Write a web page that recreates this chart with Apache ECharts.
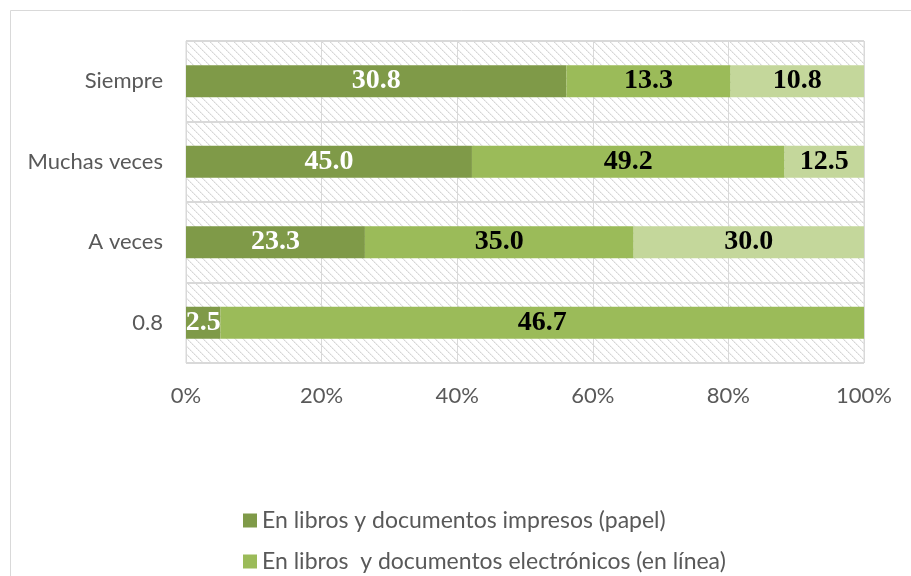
<!DOCTYPE html>
<html>
<head>
<meta charset="utf-8">
<script src="https://cdn.jsdelivr.net/npm/echarts@6/dist/echarts.min.js"></script>
<style>
  html, body { margin: 0; padding: 0; background: #fff; }
  #chart { width: 911px; height: 576px; }
</style>
</head>
<body>
<div id="chart"></div>
<script>
// categories top to bottom
var categories = ['Siempre', 'Muchas veces', 'A veces', '0.8'];
var seriesNames = [
  'En libros y documentos impresos (papel)',
  'En libros  y documentos electrónicos (en línea)',
  'Otros'
];
var impresos = [30.8, 45.0, 23.3, 2.5];
var electronicos = [13.3, 49.2, 35.0, 46.7];
var otros = [10.8, 12.5, 30.0, 0];
var xTicks = [0, 20, 40, 60, 80, 100];

var colors = ['#7F9A48', '#9BBB59', '#C4D79B'];
var labelColors = ['#ffffff', '#000000', '#000000'];

// hatch pattern for the plot background
function makeHatch() {
  var c = document.createElement('canvas');
  c.width = 8; c.height = 8;
  var ctx = c.getContext('2d');
  ctx.fillStyle = '#ffffff';
  ctx.fillRect(0, 0, 8, 8);
  for (var i = 0; i < 8; i++) {
    ctx.fillStyle = (i % 2 === 0) ? '#d6d6d6' : '#e4e4e4';
    ctx.fillRect(i, i, 1, 1);
    ctx.fillStyle = '#f0f0f0';
    ctx.fillRect((i + 1) % 8, i, 1, 1);
  }
  return c;
}

var raw = [impresos, electronicos, otros];
var totals = categories.map(function (c, i) {
  return impresos[i] + electronicos[i] + otros[i];
});

var series = raw.map(function (vals, s) {
  return {
    name: seriesNames[s],
    type: 'bar',
    stack: 'total',
    barWidth: 32,
    itemStyle: { color: colors[s] },
    label: {
      show: true,
      position: 'inside',
      color: labelColors[s],
      fontFamily: 'Liberation Serif',
      fontWeight: 'bold',
      fontSize: 28,
      formatter: function (p) {
        return vals[p.dataIndex] > 0 ? vals[p.dataIndex].toFixed(1) : '';
      }
    },
    data: vals.map(function (v, i) { return v / totals[i] * 100; })
  };
});

var legendText = { fontFamily: 'Lato', fontSize: 23, color: '#595959' };

var chart = echarts.init(document.getElementById('chart'));
chart.setOption({
  animation: false,
  backgroundColor: '#ffffff',
  graphic: [{
    type: 'rect',
    shape: { x: 10.5, y: 10.5, width: 940, height: 620 },
    style: { fill: 'none', stroke: '#d9d9d9', lineWidth: 1 },
    silent: true
  }],
  grid: {
    left: 186, top: 41, width: 678, height: 322,
    show: true,
    backgroundColor: { image: makeHatch(), repeat: 'repeat' },
    borderColor: '#d9d9d9',
    borderWidth: 1
  },
  legend: [{
    left: 238, top: 504,
    itemWidth: 14, itemHeight: 14,
    icon: 'rect',
    data: [seriesNames[0]],
    textStyle: legendText
  }, {
    left: 238, top: 545,
    itemWidth: 14, itemHeight: 14,
    icon: 'rect',
    data: [seriesNames[1]],
    textStyle: legendText
  }],
  xAxis: {
    type: 'value',
    min: xTicks[0],
    max: xTicks[xTicks.length - 1],
    interval: 20,
    axisLine: { show: false },
    axisTick: { show: false },
    splitLine: { show: true, lineStyle: { color: '#d9d9d9', width: 1 } },
    axisLabel: {
      margin: 22,
      color: '#595959',
      fontFamily: 'Lato',
      fontSize: 22,
      formatter: '{value}%'
    }
  },
  yAxis: {
    type: 'category',
    inverse: true,
    data: categories,
    axisLine: { show: false },
    axisTick: { show: false },
    splitLine: { show: true, lineStyle: { color: '#d9d9d9', width: 2 } },
    axisLabel: {
      margin: 23,
      color: '#595959',
      fontFamily: 'Lato',
      fontSize: 22
    }
  },
  series: series
});
</script>
</body>
</html>
